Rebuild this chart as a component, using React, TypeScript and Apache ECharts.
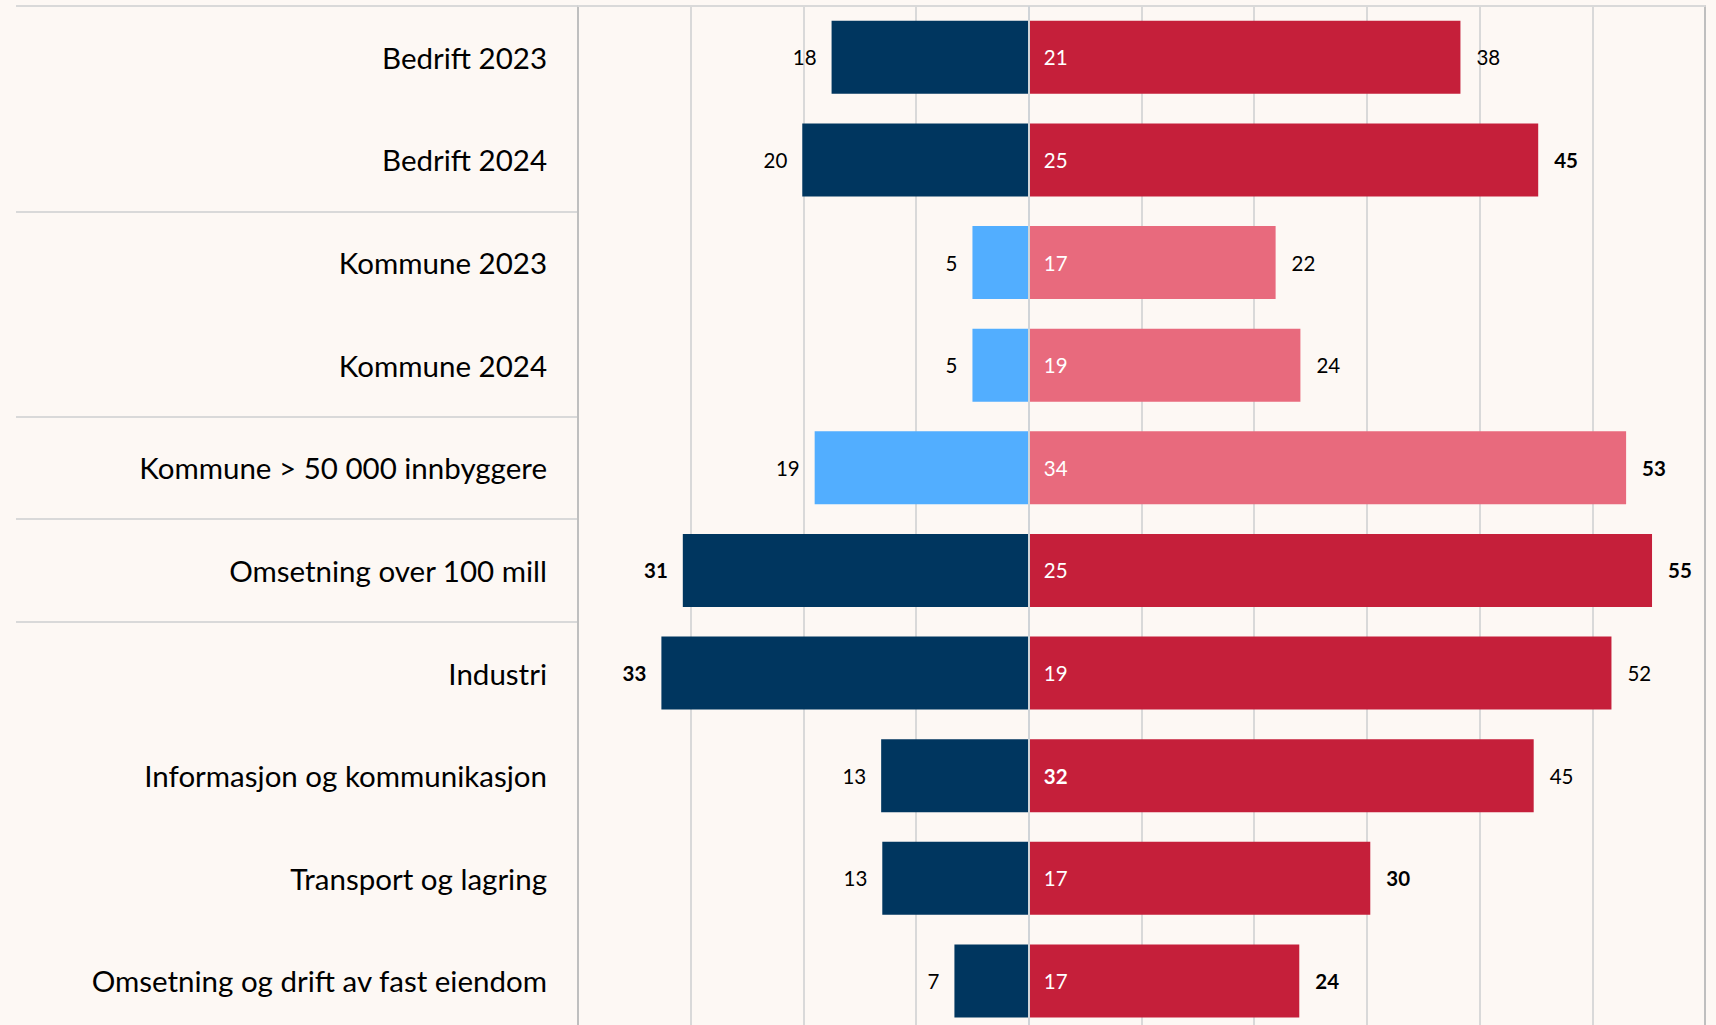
import React, { useEffect, useRef } from "react";
import * as echarts from "echarts";

// ---- data ----
const categories = [
  "Bedrift 2023",
  "Bedrift 2024",
  "Kommune 2023",
  "Kommune 2024",
  "Kommune > 50 000 innbyggere",
  "Omsetning over 100 mill",
  "Industri",
  "Informasjon og kommunikasjon",
  "Transport og lagring",
  "Omsetning og drift av fast eiendom",
];
const categoryGroups = [
  "Bedrift",
  "Bedrift",
  "Kommune",
  "Kommune",
  "Kommune stor",
  "Omsetning",
  "Næring",
  "Næring",
  "Næring",
  "Næring",
];
const leftValues = [17.5, 20.1, 5.0, 5.0, 19.0, 30.7, 32.6, 13.1, 13.0, 6.6];
const innerValues = [21, 25, 17, 19, 34, 25, 19, 32, 17, 17];
const totalValues = [38.3, 45.2, 21.9, 24.1, 53.0, 55.3, 51.7, 44.8, 30.3, 24.0];
const leftBold = [false, false, false, false, false, true, true, false, false, false];
const innerBold = [false, false, false, false, false, false, false, true, false, false];
const totalBold = [false, true, false, false, true, true, false, false, true, true];
const axisMin = -40;
const axisMax = 60;
const axisStep = 10;

// ---- style ----
const BG = "#FDF8F4";
const NAVY = "#00365F";
const LIGHT_BLUE = "#52AEFF";
const RED = "#C51F3A";
const PINK = "#E86A7D";
const GRID = "#D9D9D9";
const BORDER = "#BFBFBF";
const FONT = "Lato, 'Open Sans', sans-serif";

const isLight = (i: number) => categories[i].startsWith("Kommune");

export default function App() {
  const ref = useRef<HTMLDivElement>(null);

  useEffect(() => {
    document.body.style.margin = "0";
    document.body.style.background = BG;
    if (!ref.current) return;
    const chart = echarts.init(ref.current, undefined, { renderer: "svg" });

    const leftData = leftValues.map((v, i) => ({
      value: -v,
      itemStyle: { color: isLight(i) ? LIGHT_BLUE : NAVY },
      label: { fontWeight: leftBold[i] ? "bold" : "normal" },
    }));
    const totalData = totalValues.map((v, i) => ({
      value: v,
      itemStyle: { color: isLight(i) ? PINK : RED },
      label: { fontWeight: totalBold[i] ? "bold" : "normal" },
    }));
    const innerData = totalValues.map((v, i) => ({
      value: v,
      label: { fontWeight: innerBold[i] ? "bold" : "normal" },
    }));

    const labelBase = {
      show: true,
      fontFamily: FONT,
      fontSize: 20.5,
      color: "#000",
    };

    chart.setOption({
      animation: false,
      backgroundColor: BG,
      grid: [
        { left: 578, right: 11, top: 6, height: 1026.3 },
        { left: 16, width: 562, top: 6, height: 1026.3 },
      ],
      xAxis: [
        {
          type: "value",
          gridIndex: 0,
          position: "top",
          min: axisMin,
          max: axisMax,
          interval: axisStep,
          axisLabel: { show: false },
          axisTick: { show: false },
          axisLine: { show: true, lineStyle: { color: GRID, width: 2 } },
          splitLine: { show: true, lineStyle: { color: GRID, width: 2 } },
        },
        {
          type: "value",
          gridIndex: 1,
          show: false,
          min: 0,
          max: 1,
        },
      ],
      yAxis: [
        {
          type: "category",
          gridIndex: 0,
          data: categories,
          inverse: true,
          axisTick: { show: false },
          axisLine: { show: true, onZero: false, lineStyle: { color: BORDER, width: 2 } },
          axisLabel: {
            fontFamily: FONT,
            fontSize: 29.5,
            color: "#000",
            margin: 31,
          },
          splitLine: { show: false },
        },
        {
          type: "category",
          gridIndex: 0,
          position: "right",
          data: categories,
          inverse: true,
          axisTick: { show: false },
          axisLabel: { show: false },
          axisLine: { show: true, onZero: false, lineStyle: { color: BORDER, width: 2 } },
          splitLine: { show: false },
        },
        {
          type: "category",
          gridIndex: 1,
          data: categories,
          inverse: true,
          axisTick: { show: false },
          axisLabel: { show: false },
          axisLine: { show: false },
          splitLine: {
            show: true,
            interval: (index: number) =>
              index === 0 || categoryGroups[index] !== categoryGroups[index - 1],
            lineStyle: { color: GRID, width: 2 },
          },
        },
      ],
      series: [
        {
          name: "left",
          type: "bar",
          xAxisIndex: 0,
          yAxisIndex: 0,
          barWidth: 73,
          barGap: "-100%",
          data: leftData,
          label: {
            ...labelBase,
            position: "left",
            distance: 15,
            formatter: (p: any) => String(Math.round(Math.abs(p.value))),
          },
          z: 2,
        },
        {
          name: "total",
          type: "bar",
          xAxisIndex: 0,
          yAxisIndex: 0,
          barWidth: 73,
          barGap: "-100%",
          data: totalData,
          label: {
            ...labelBase,
            position: "right",
            distance: 16,
            formatter: (p: any) => String(Math.round(p.value)),
          },
          z: 2,
        },
        {
          name: "inner",
          type: "bar",
          xAxisIndex: 0,
          yAxisIndex: 0,
          barWidth: 73,
          barGap: "-100%",
          data: innerData,
          itemStyle: { color: "rgba(0,0,0,0)" },
          label: {
            ...labelBase,
            color: "#fff",
            position: "insideLeft",
            distance: 15,
            formatter: (p: any) => String(innerValues[p.dataIndex]),
          },
          markLine: {
            silent: true,
            symbol: "none",
            label: { show: false },
            lineStyle: { color: "#D0D4D8", width: 2, type: "solid" },
            data: [{ xAxis: 0 }],
          },
          z: 3,
        },
      ],
    });

    return () => chart.dispose();
  }, []);

  return (
    <div
      style={{
        position: "absolute",
        left: 0,
        top: 0,
        width: 1716,
        height: 1025,
        overflow: "hidden",
        background: BG,
      }}
    >
      <div ref={ref} style={{ width: 1716, height: 1034 }} />
    </div>
  );
}
